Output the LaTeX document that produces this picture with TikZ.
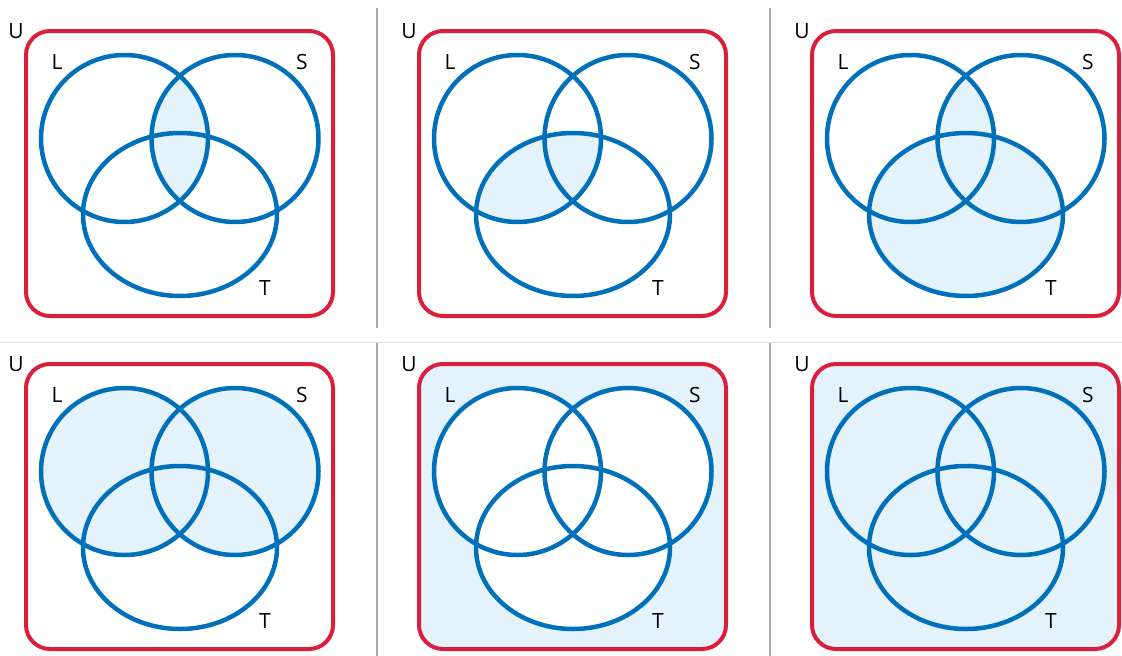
\documentclass[tikz,border=0pt]{standalone}
\usepackage{fontspec}
\setmainfont{Open Sans}
\definecolor{vennblue}{RGB}{0,112,186}
\definecolor{univred}{RGB}{218,31,61}
\definecolor{shade}{RGB}{227,242,251}
\definecolor{sepgrey}{RGB}{170,172,175}
\definecolor{rulegrey}{RGB}{222,222,222}
\tikzset{
  setline/.style={draw=vennblue, line width=4.5},
  univbox/.style={draw=univred, line width=4, rounded corners=24},
  setlabel/.style={font=\fontsize{21}{21}\selectfont, inner sep=0pt},
  shaded/.style={fill=shade},
}
\newcommand{\setL}{(124.5,138.5) ellipse [x radius=83.5, y radius=83.5]}
\newcommand{\setS}{(235,138.5) ellipse [x radius=83.5, y radius=83.5]}
\newcommand{\setT}{(180,214.5) ellipse [x radius=97, y radius=81.5]}
\newcommand{\univ}{(26,31) rectangle (333,316)}
% one panel: name, x shift, y shift, shading
\newcommand{\vennpanel}[4]{%
  \begin{scope}[shift={(#2,#3)}]
    #4
    \draw[univbox] \univ;
    \draw[setline] \setL;
    \draw[setline] \setS;
    \draw[setline] \setT;
    \node[setlabel] (#1U) at (16,31) {U};
    \node[setlabel] (#1L) at (57,62) {L};
    \node[setlabel] (#1S) at (302,62) {S};
    \node[setlabel] (#1T) at (265,288) {T};
  \end{scope}}

\begin{document}
\begin{tikzpicture}[x=1pt, y=-1pt]
    \useasboundingbox (0,0) rectangle (1122,656);

    % separators
    \draw[rulegrey, line width=1] (0,342) -- (1122,342);
    \foreach \sx in {377, 770} {
        \draw[sepgrey, line width=2] (\sx,8) -- (\sx,328);
        \draw[sepgrey, line width=2] (\sx,343) -- (\sx,656);
    }

    % top row
    \vennpanel{a}{0}{0}{
        \begin{scope} \clip \setL; \fill[shaded] \setS; \end{scope}
    }
    \vennpanel{b}{393}{0}{
        \begin{scope} \clip \setL; \fill[shaded] \setT; \end{scope}
    }
    \vennpanel{c}{786}{0}{
        \fill[shaded] \setT;
        \begin{scope} \clip \setL; \fill[shaded] \setS; \end{scope}
    }

    % bottom row
    \vennpanel{d}{0}{333}{
        \fill[shaded] \setL;
        \fill[shaded] \setS;
    }
    \vennpanel{e}{393}{333}{
        \fill[shaded, rounded corners=24] \univ;
        \fill[white] \setL;
        \fill[white] \setS;
        \fill[white] \setT;
    }
    \vennpanel{f}{786}{333}{
        \fill[shaded, rounded corners=24] \univ;
    }
\end{tikzpicture}
\end{document}
